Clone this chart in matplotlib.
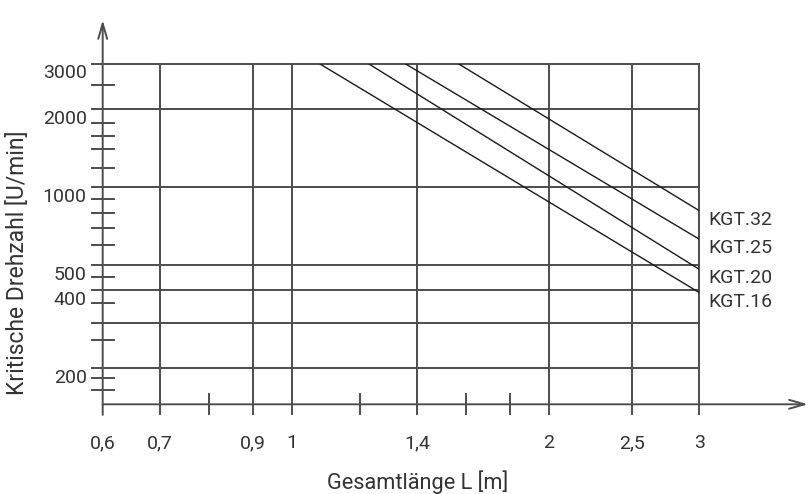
import matplotlib
matplotlib.use("Agg")
import matplotlib.pyplot as plt

# Daten
serien = ["KGT.16", "KGT.20", "KGT.25", "KGT.32"]
laenge_start = [1.077, 1.229, 1.357, 1.566]   # L [m] bei 3000 U/min
drehzahl_ende = [392, 482, 630, 812]          # U/min bei L = 3 m
laenge_ende = 3.0
drehzahl_start = 3000

x_gitter = [0.7, 0.9, 1, 1.4, 2, 2.5, 3]
x_kurz = [0.8, 1.2, 1.6, 1.8]
x_beschriftung = [0.6, 0.7, 0.9, 1, 1.4, 2, 2.5, 3]
x_texte = ["0,6", "0,7", "0,9", "1", "1,4", "2", "2,5", "3"]

y_gitter = [3000, 2000, 1000, 500, 400, 300, 200]
y_kurz = [2483, 1775, 1581, 1403, 1186, 901, 798, 699, 599, 449, 357, 257, 183, 165]
y_beschriftung = [3000, 2000, 1000, 500, 400, 200]
y_texte = ["3000", "2000", "1000", "500", "400", "200"]

plt.rcParams['font.family'] = ['Roboto', 'DejaVu Sans']
textfarbe = '#333333'
gitterfarbe = '#4d4d4d'

fig = plt.figure(figsize=(8.08, 4.94), dpi=100)
ax = fig.add_axes([102.7 / 808, 1 - 404.3 / 494, 596.6 / 808, 340.6 / 494])
ax.set_xscale('log')
ax.set_yscale('log')
ax.set_xlim(0.6, 3)
ax.set_ylim(145.2, 3000)
ax.axis('off')

# Gitterlinien
for y in y_gitter:
    ax.axhline(y, xmin=-0.018, xmax=1, color=gitterfarbe, lw=1.4, clip_on=False)
for x in x_gitter:
    ax.axvline(x, ymin=-0.0285, ymax=1, color=gitterfarbe, lw=1.4, clip_on=False)

# kurze Teilstriche
for y in y_kurz:
    ax.axhline(y, xmin=-0.018, xmax=0.019, color=gitterfarbe, lw=1.4, clip_on=False)
for x in x_kurz:
    ax.axvline(x, ymin=-0.0285, ymax=0.030, color=gitterfarbe, lw=1.4, clip_on=False)

# Achsen mit Pfeilen
pfeil = dict(arrowstyle='->,head_length=1.1,head_width=0.32', color=gitterfarbe,
             lw=1.4, mutation_scale=10, shrinkA=0, shrinkB=0)
ax.annotate('', xy=(0, 1.128), xytext=(0, -0.031), xycoords='axes fraction',
            arrowprops=pfeil, annotation_clip=False)
ax.annotate('', xy=(1.182, 0), xytext=(0, 0), xycoords='axes fraction',
            arrowprops=pfeil, annotation_clip=False)

# Kennlinien
for name, xs, ye in zip(serien, laenge_start, drehzahl_ende):
    ax.plot([xs, laenge_ende], [drehzahl_start, ye], color='#1a1a1a', lw=1.0,
            solid_capstyle='butt')
    ax.annotate(name, xy=(laenge_ende, ye), xytext=(6.5, -6.5),
                textcoords='offset points', ha='left', va='center',
                fontsize=14, color=textfarbe, annotation_clip=False)

# Achsenbeschriftungen
trans_y = ax.get_yaxis_transform()
for y, t in zip(y_beschriftung, y_texte):
    ax.annotate(t, xy=(0, y), xycoords=trans_y, xytext=(-11.5, -7),
                textcoords='offset points', ha='right', va='center',
                fontsize=14, color=textfarbe, annotation_clip=False)
trans_x = ax.get_xaxis_transform()
for x, t in zip(x_beschriftung, x_texte):
    ax.annotate(t, xy=(x, 0), xycoords=trans_x, xytext=(0, -28),
                textcoords='offset points', ha='center', va='center',
                fontsize=14, color=textfarbe, annotation_clip=False)

fig.text(417.8 / 808, 1 - 481.7 / 494, 'Gesamtlänge L [m]', ha='center', va='center',
         fontsize=15.7, color=textfarbe)
fig.text(17.5 / 808, 1 - 263 / 494, 'Kritische Drehzahl [U/min]', ha='center',
         va='center', rotation=90, fontsize=16.5, color=textfarbe)

fig.savefig('out.png', dpi=100)
